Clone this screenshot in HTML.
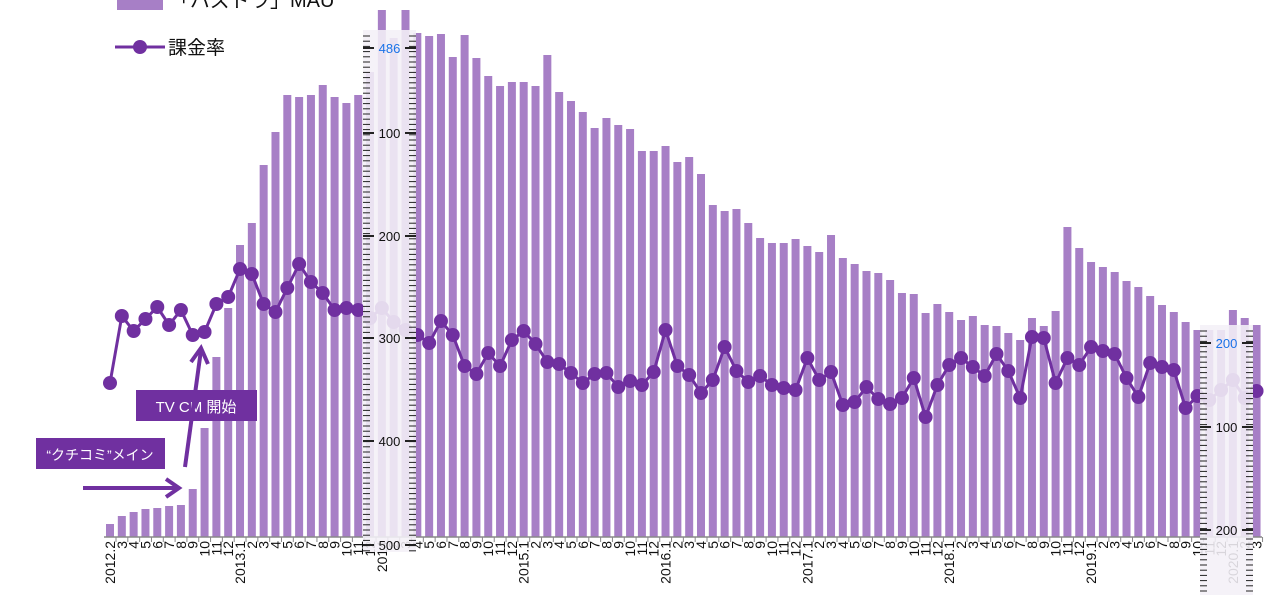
<!DOCTYPE html>
<html><head><meta charset="utf-8">
<style>
body{margin:0;background:#fff;width:1280px;height:595px;overflow:hidden;font-family:"Liberation Sans","Noto Sans CJK JP",sans-serif;}
svg{display:block}
</style></head>
<body>
<svg id="chart" width="1280" height="595" viewBox="0 0 1280 595" xmlns="http://www.w3.org/2000/svg">
<g id="bars"></g>
<g id="line"></g>
<g id="axis"></g>
<g id="overlay"></g>
<g>
<rect x="117" y="-8" width="46" height="18" fill="#a77fc6"/>
<text x="170" y="7" font-size="20" fill="#111">「パズドラ」MAU</text>
<line x1="115" y1="47" x2="165" y2="47" stroke="#7030a0" stroke-width="3"/>
<circle cx="140" cy="47" r="7" fill="#7030a0"/>
<text x="168" y="54" font-size="19" fill="#111">課金率</text>
</g>
<g>
<rect x="136" y="390" width="121" height="31" fill="#7030a0"/>
<text x="196" y="412" font-size="15" fill="#fff" text-anchor="middle">TV CM 開始</text>
<rect x="36" y="438" width="129" height="31" fill="#7030a0"/>
<text x="100" y="460" font-size="14" fill="#fff" text-anchor="middle">“クチコミ”メイン</text>
<line x1="83" y1="488" x2="176" y2="488" stroke="#7030a0" stroke-width="4"/>
<polyline points="166,479 179,488 166,497" fill="none" stroke="#7030a0" stroke-width="4"/>
<line x1="185" y1="467" x2="201" y2="350" stroke="#7030a0" stroke-width="4"/>
<polyline points="191,362 201,348 208,364" fill="none" stroke="#7030a0" stroke-width="4"/>
</g>
</svg>
<script>
const months = ["2012.2","3","4","5","6","7","8","9","10","11","12","2013.1","2","3","4","5","6","7","8","9","10","11","12","2014","2","3","4","5","6","7","8","9","10","11","12","2015.1","2","3","4","5","6","7","8","9","10","11","12","2016.1","2","3","4","5","6","7","8","9","10","11","12","2017.1","2","3","4","5","6","7","8","9","10","11","12","2018.1","2","3","4","5","6","7","8","9","10","11","12","2019.1","2","3","4","5","6","7","8","9","10","11","12","2020.1","2","3"];
const mau = [13,21,25,28,29,31,32,48,109,180,229,292,314,372,405,442,440,442,452,440,434,442,465,527,499,527,504,501,503,480,502,479,461,451,455,455,451,482,445,436,425,409,419,412,408,386,386,391,375,380,363,332,326,328,314,299,294,294,298,291,285,302,279,273,266,264,257,244,243,224,233,225,217,221,212,211,204,197,219,211,226,310,289,275,270,265,256,250,241,232,225,215,207,207,207,227,219,212];
const rate = [16.2,22.9,21.4,22.6,23.8,22.0,23.5,21.0,21.3,24.1,24.8,27.6,27.1,24.1,23.3,25.7,28.1,26.3,25.2,23.5,23.7,23.5,22.7,23.7,22.3,21.5,21.0,20.2,22.4,21.0,17.9,17.1,19.2,17.9,20.5,21.4,20.1,18.3,18.1,17.2,16.2,17.1,17.2,15.8,16.4,16.0,17.3,21.5,17.9,17.0,15.2,16.5,19.8,17.4,16.3,16.9,16.0,15.7,15.5,18.7,16.5,17.3,14.0,14.3,15.8,14.6,14.1,14.7,16.7,12.8,16.0,18.0,18.7,17.8,16.9,19.1,17.4,14.7,20.8,20.7,16.2,18.7,18.0,19.8,19.4,19.1,16.7,14.8,18.2,17.8,17.5,13.7,14.9,14.5,15.5,16.5,14.7,15.4];
const NS="http://www.w3.org/2000/svg";
const xS=i=>110+i*11.82;
const yMau=v=>537-v;
const yRate=r=>545-r*10;
function mk(t,a,p){const e=document.createElementNS(NS,t);for(const k in a)e.setAttribute(k,a[k]);p.appendChild(e);return e;}
const gb=document.getElementById('bars');
mau.forEach((v,i)=>{const r=mk('rect',{x:xS(i)-4,y:yMau(v),width:8,height:537-yMau(v),fill:'#a77fc6'},gb);

});
const gl=document.getElementById('line');
mk('polyline',{points:rate.map((r,i)=>xS(i)+','+yRate(r)).join(' '),fill:'none',stroke:'#7030a0','stroke-width':3},gl);
rate.forEach((r,i)=>{const c=mk('circle',{cx:xS(i),cy:yRate(r),r:7,fill:'#7030a0'},gl);

});
const ga=document.getElementById('axis');
mk('line',{x1:104,y1:537,x2:1262,y2:537,stroke:'#888','stroke-width':1.5},ga);
months.forEach((m,i)=>{mk('line',{x1:xS(i)+6,y1:537,x2:xS(i)+6,y2:542,stroke:'#888'},ga);
const t=mk('text',{x:0,y:0,'font-size':14,fill:'#111','text-anchor':'end',transform:`translate(${xS(i)+5},541) rotate(-90)`},ga);
t.textContent=m;

});
const go=document.getElementById('overlay');
function ruler(x0,x1,y0,y1,labels){
 mk('rect',{x:x0,y:y0,width:x1-x0,height:y1-y0,fill:'rgba(244,240,247,0.88)'},go);
 for(let y=y0+6;y<y1;y+=5.2){mk('line',{x1:x0,y1:y,x2:x0+7,y2:y,stroke:'#222'},go);mk('line',{x1:x1-7,y1:y,x2:x1,y2:y,stroke:'#222'},go);}
 labels.forEach(l=>{mk('line',{x1:x0,y1:l[1],x2:x0+11,y2:l[1],stroke:'#222','stroke-width':2},go);mk('line',{x1:x1-11,y1:l[1],x2:x1,y2:l[1],stroke:'#222','stroke-width':2},go);
 const t=mk('text',{x:(x0+x1)/2,y:l[1]+5,'font-size':13,'text-anchor':'middle',fill:l[2]||'#111'},go);t.textContent=l[0];
 
 });
}
ruler(363,416,30,552,[["486",48,"#1a73e8"],["100",133],["200",236],["300",338],["400",441],["500",545]]);
ruler(1200,1253,325,595,[["200",343,"#1a73e8"],["100",427],["200",530]]);
</script>
</body></html>
